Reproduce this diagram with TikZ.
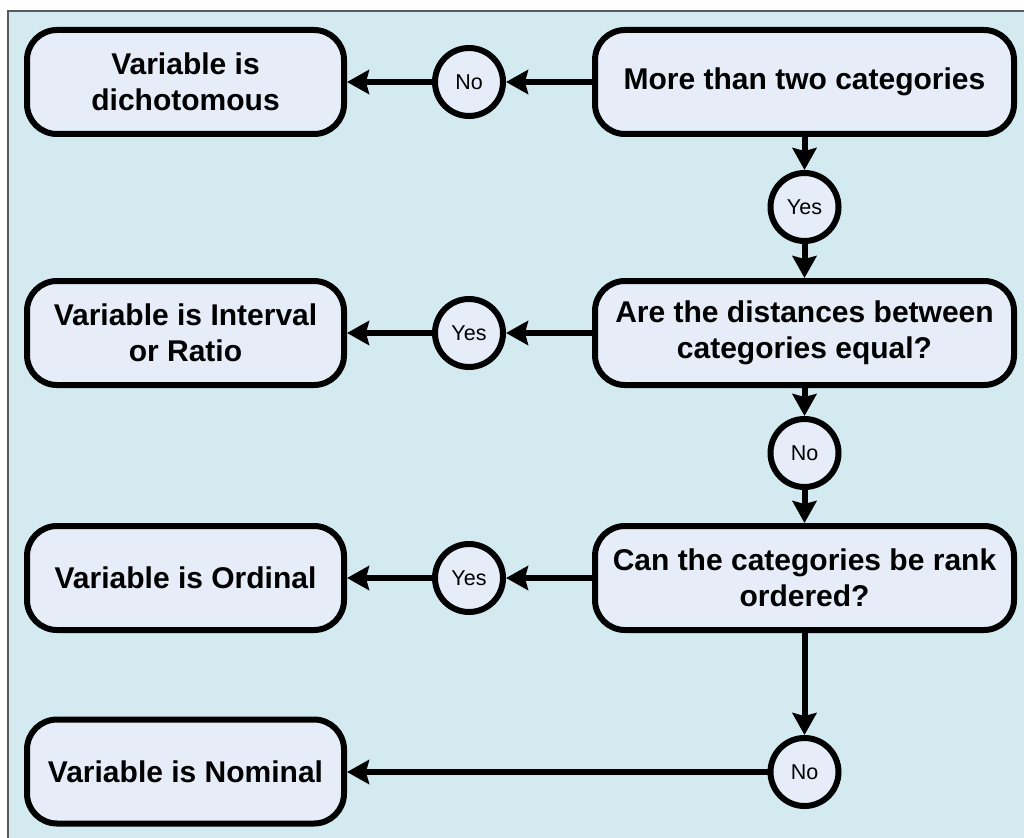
\documentclass[tikz,border=0pt]{standalone}
\usepackage{fontspec}
\setmainfont{Liberation Sans}
\usetikzlibrary{arrows.meta}

\definecolor{panelbg}{RGB}{210,234,240}
\definecolor{boxfill}{RGB}{230,237,248}
\definecolor{panelline}{RGB}{90,90,90}

\tikzset{
  decision/.style={draw, line width=6pt, fill=boxfill, rounded corners=30pt,
    minimum width=419pt, minimum height=104pt, align=center,
    font=\fontsize{30}{36}\selectfont\bfseries, inner sep=0pt},
  outcome/.style={draw, line width=6pt, fill=boxfill, rounded corners=30pt,
    minimum width=317pt, minimum height=104pt, align=center,
    font=\fontsize{30}{36}\selectfont\bfseries, inner sep=0pt},
  answer/.style={draw, circle, line width=6pt, fill=boxfill,
    minimum size=68pt, inner sep=0pt, font=\fontsize{21.5}{24}\selectfont},
  flow/.style={line width=6pt, -{Stealth[length=22pt,width=24pt,inset=3pt]}},
}

\begin{document}
\begin{tikzpicture}[x=1pt,y=-1pt]
  \useasboundingbox (0,0) rectangle (1024,837);
  % panel
  \fill[white] (0,0) rectangle (1024,837);
  \draw[panelline, line width=2pt, fill=panelbg] (8,11) rectangle (1040,850);

  % question column
  \node[decision] (q1) at (804.5,82)  {More than two categories};
  \node[decision] (q2) at (804.5,333) {Are the distances between\\categories equal?};
  \node[decision] (q3) at (804.5,578) {Can the categories be rank\\ordered?};

  % result column
  \node[outcome] (r1) at (185.5,82)  {Variable is\\dichotomous};
  \node[outcome] (r2) at (185.5,333) {Variable is Interval\\or Ratio};
  \node[outcome] (r3) at (185.5,578) {Variable is Ordinal};
  \node[outcome] (r4) at (185.5,771.5) {Variable is Nominal};

  % answer bubbles
  \node[answer] (a1) at (469,82)  {No};
  \node[answer] (a2) at (804.5,207) {Yes};
  \node[answer] (a3) at (469,333) {Yes};
  \node[answer] (a4) at (804.5,453) {No};
  \node[answer] (a5) at (469,578) {Yes};
  \node[answer] (a6) at (804.5,772) {No};

  % connectors
  \draw[flow] (q1.west) -- (a1.east);
  \draw[flow] (a1.west) -- (r1.east);
  \draw[flow] (q1.south) -- (a2.north);
  \draw[flow] (a2.south) -- (q2.north);
  \draw[flow] (q2.west) -- (a3.east);
  \draw[flow] (a3.west) -- (r2.east);
  \draw[flow] (q2.south) -- (a4.north);
  \draw[flow] (a4.south) -- (q3.north);
  \draw[flow] (q3.west) -- (a5.east);
  \draw[flow] (a5.west) -- (r3.east);
  \draw[flow] (q3.south) -- (a6.north);
  \draw[flow] (a6.west) -- (r4.east |- a6.west);
\end{tikzpicture}
\end{document}
